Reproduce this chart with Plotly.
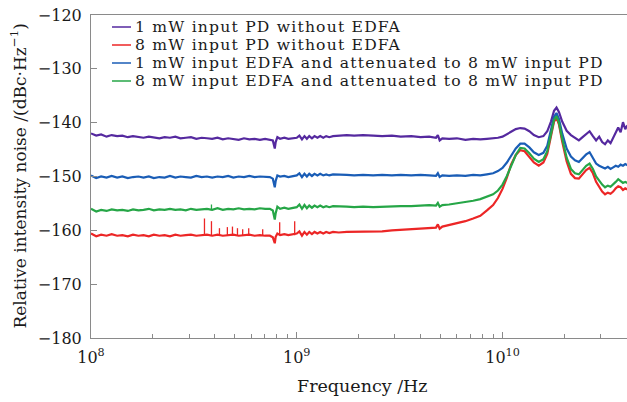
import plotly.graph_objects as go

# ---------------- data ----------------
freq_ghz = [
    0.100, 0.106, 0.112, 0.119, 0.126, 0.134, 0.142, 0.151, 0.160, 0.170,
    0.180, 0.191, 0.202, 0.215, 0.228, 0.242, 0.257, 0.272, 0.289, 0.306,
    0.325, 0.345, 0.366, 0.388, 0.412, 0.437, 0.464, 0.492, 0.522, 0.554,
    0.588, 0.624, 0.662, 0.702,
    0.740, 0.765, 0.775, 0.782, 0.790, 0.805, 0.830, 0.870, 0.910, 0.955,
    1.000, 1.030, 1.060, 1.090, 1.120, 1.150, 1.185, 1.220, 1.260, 1.300,
    1.345, 1.390, 1.440, 1.500,
    1.600, 1.750, 1.900, 2.100, 2.350, 2.600, 2.900, 3.200, 3.600, 4.000, 4.400,
    4.750, 4.850, 4.950, 5.100,
    5.500, 6.000, 6.600, 7.200, 7.800, 8.400, 9.000, 9.500,
    10.00, 10.50, 11.00, 11.60, 12.20, 12.80, 13.50, 14.20, 15.00, 15.80,
    16.50, 17.20, 17.80,
    18.30, 18.80, 19.50, 20.50, 21.50, 22.50, 23.50, 24.50, 25.50, 26.50,
    27.50, 28.50, 29.50, 30.50, 31.50, 32.50, 33.50, 34.50, 35.50, 36.50,
    37.50, 38.50, 39.50, 40.50,
]

rin_1mw_pd = [
    -142.0, -142.4, -142.2, -142.6, -142.3, -142.5, -142.4, -142.7, -142.5, -142.6,
    -142.8, -142.6, -142.7, -142.9, -142.7, -142.8, -142.6, -142.9, -142.8, -142.7,
    -143.0, -142.8, -142.9, -143.0, -142.8, -143.1, -142.9, -143.0, -143.2, -142.9,
    -143.1, -143.0, -143.2, -143.0,
    -143.1, -143.3, -144.2, -144.8, -143.6, -142.7, -143.0, -142.8, -143.0, -142.9,
    -142.8, -142.4, -143.1, -142.5, -143.0, -142.5, -142.9, -142.5, -142.8, -142.5,
    -142.8, -142.5, -142.7, -142.5,
    -142.4, -142.3, -142.4, -142.3, -142.4, -142.5, -142.4, -142.6, -142.5, -142.7, -142.6,
    -142.8, -142.3, -143.3, -142.9,
    -143.0, -142.9, -143.2, -143.0, -143.1, -143.0, -142.9, -142.8,
    -142.6, -142.2, -141.7, -141.2, -141.0, -141.1, -141.6, -142.3, -142.7, -142.5,
    -141.6, -139.8, -137.8,
    -137.2, -138.0, -139.8, -141.5, -142.3, -142.8, -143.3, -142.7, -142.2, -141.6,
    -142.5, -143.3, -142.6, -143.6, -144.0, -143.3, -143.8, -142.8, -141.6, -140.9,
    -141.8, -139.9, -141.2, -140.5,
]

rin_8mw_pd = [
    -160.6, -161.1, -160.8, -161.0, -160.7, -161.0, -160.9, -161.1, -160.8, -161.0,
    -160.9, -161.1, -160.8, -161.0, -160.9, -161.1, -160.8, -161.0, -160.9, -160.8,
    -161.0, -160.9, -160.8, -161.0, -160.8, -161.0, -160.9, -160.8, -161.0, -160.9,
    -160.8, -161.0, -160.9, -161.0,
    -161.0, -161.3, -162.0, -162.4, -161.2, -160.6, -160.9, -160.7, -160.9, -160.7,
    -160.6, -160.2, -161.0, -160.3, -160.8, -160.3, -160.7, -160.3, -160.6, -160.3,
    -160.6, -160.3, -160.5, -160.3,
    -160.4, -160.3, -160.3, -160.2, -160.2, -160.2, -160.0, -159.9, -159.8, -159.6, -159.5,
    -159.5, -158.9, -159.7, -159.3,
    -159.0, -158.7, -158.3, -157.8, -157.3, -156.3, -155.3, -154.0,
    -152.3, -150.2, -147.8, -146.0, -145.1, -145.3, -146.3, -147.4, -148.0, -147.4,
    -145.8, -142.7, -139.8,
    -139.1, -140.3, -143.5, -147.2, -149.5, -150.3, -150.4, -149.6, -148.8, -148.4,
    -149.4, -151.0, -152.0, -152.8, -153.3, -153.0, -153.2, -152.8, -152.2, -151.8,
    -152.0, -152.5, -152.2, -152.4,
]

rin_1mw_edfa = [
    -149.8, -150.3, -150.0, -150.2, -149.9, -150.2, -150.0, -150.3, -150.1, -150.0,
    -150.2, -150.0, -150.3, -150.1, -150.2, -149.9, -150.2, -150.0, -150.1, -150.2,
    -149.9, -150.1, -150.0, -150.2, -150.0, -150.1, -149.9, -150.2, -150.0, -150.1,
    -149.9, -150.1, -150.0, -150.1,
    -150.1, -150.4, -151.4, -152.0, -150.8, -149.8, -150.0, -149.9, -150.1, -149.9,
    -149.8, -149.4, -150.1, -149.5, -150.0, -149.5, -149.9, -149.5, -149.8, -149.5,
    -149.8, -149.6, -149.8, -149.6,
    -149.7, -149.7, -149.8, -149.7, -149.8, -149.7, -149.8, -149.7, -149.8, -149.7, -149.8,
    -149.9, -149.4, -150.1, -149.8,
    -149.9, -149.8, -149.9, -149.7, -149.8, -149.6, -149.4, -149.0,
    -148.4, -147.4, -146.2, -144.8, -143.9, -143.9, -144.6, -145.5, -146.0, -145.6,
    -144.3, -141.6, -138.9,
    -138.2, -139.3, -142.0, -144.8, -146.3, -147.0, -147.3, -146.6, -145.9, -145.5,
    -146.5, -147.6, -148.0, -148.3, -148.5, -148.2, -148.6, -148.3, -148.0, -148.2,
    -147.8, -148.0, -147.7, -147.9,
]

rin_8mw_edfa = [
    -156.0, -156.5, -156.2, -156.4, -156.1, -156.3, -156.2, -156.4, -156.1, -156.3,
    -156.2, -156.0, -156.3, -156.1, -156.2, -156.0, -156.2, -156.1, -156.3, -156.0,
    -156.2, -156.1, -156.0, -156.2, -155.9, -156.2, -156.0, -156.1, -155.9, -156.1,
    -156.0, -156.1, -155.9, -156.0,
    -156.0, -156.3, -157.4, -158.0, -156.8, -155.6, -156.0, -155.8, -156.0, -155.8,
    -155.7, -155.2, -156.0, -155.3, -155.9, -155.4, -155.8, -155.4, -155.7, -155.4,
    -155.7, -155.5, -155.7, -155.5,
    -155.6, -155.6, -155.7, -155.6, -155.7, -155.6, -155.6, -155.5, -155.5, -155.4, -155.3,
    -155.4, -154.9, -155.6, -155.3,
    -155.2, -155.0, -154.8, -154.5, -154.2, -153.8, -153.3, -152.6,
    -151.5, -149.9, -148.0, -146.0, -144.7, -144.8, -145.7, -146.7, -147.3, -146.8,
    -145.3, -142.3, -139.5,
    -138.8, -140.0, -143.0, -146.5, -148.6, -149.4, -149.6, -148.8, -148.0, -147.6,
    -148.6, -150.0, -150.8, -151.5, -152.0, -151.7, -151.9, -151.5, -151.0, -150.5,
    -150.8, -151.2, -151.0, -151.2,
]

# narrow spurs (frequency, top value) and the floor they rise from
red_spike_ghz = [0.356, 0.385, 0.421, 0.460, 0.487, 0.515, 0.546, 0.584, 0.683, 0.826, 0.977]
red_spike_top = [-157.8, -158.3, -159.6, -159.4, -159.3, -159.6, -159.8, -159.6, -159.8, -158.5, -158.3]
red_spike_base = -160.9
green_spike_ghz = [0.385]
green_spike_top = [-155.2]
green_spike_base = -156.1

series_names = [
    "1 mW input PD without EDFA",
    "8 mW input PD without EDFA",
    "1 mW input EDFA and attenuated to 8 mW input PD",
    "8 mW input EDFA and attenuated to 8 mW input PD",
]
series_values = [rin_1mw_pd, rin_8mw_pd, rin_1mw_edfa, rin_8mw_edfa]
series_colors = ["#55299f", "#ec2626", "#1a5db6", "#26a647"]

y_ticks = [-180, -170, -160, -150, -140, -130, -120]
x_tickvals = [1e8, 1e9, 1e10]
x_ticktext = ["10<sup>8</sup>", "10<sup>9</sup>", "10<sup>10</sup>"]

# ---------------- figure ----------------
FONT = "DejaVu Serif"
TXT = "#1a1a1a"
W, H = 627, 402
ML, MR, MT, MB = 91, 0, 15, 64
PW, PH = W - ML - MR, H - MT - MB


def px_x(px):  # page pixel -> paper x
    return (px - ML) / PW


def px_y(py):  # page pixel -> paper y
    return (H - MB - py) / PH


freq_hz = [f * 1e9 for f in freq_ghz]
fig = go.Figure()
for name, vals, col in zip(series_names, series_values, series_colors):
    fig.add_trace(go.Scatter(x=freq_hz, y=vals, mode="lines", name=name,
                             line=dict(color=col, width=2.2), showlegend=False))


def spike_xy(fs, tops, base):
    xs, ys = [], []
    for f, t in zip(fs, tops):
        xs += [f * 1e9, f * 1e9, None]
        ys += [base, t, None]
    return xs, ys


sx, sy = spike_xy(red_spike_ghz, red_spike_top, red_spike_base)
fig.add_trace(go.Scatter(x=sx, y=sy, mode="lines", line=dict(color=series_colors[1], width=1.3),
                         showlegend=False, hoverinfo="skip"))
gx, gy = spike_xy(green_spike_ghz, green_spike_top, green_spike_base)
fig.add_trace(go.Scatter(x=gx, y=gy, mode="lines", line=dict(color=series_colors[3], width=1.3),
                         showlegend=False, hoverinfo="skip"))

# compact legend drawn like the reference (short key line + text)
row_px = [27.0, 45.0, 63.0, 81.0]
key_x0, key_x1, text_x = 112, 131, 134
for name, col, ry in zip(series_names, series_colors, row_px):
    fig.add_shape(type="line", xref="paper", yref="paper",
                  x0=px_x(key_x0), x1=px_x(key_x1), y0=px_y(ry), y1=px_y(ry),
                  line=dict(color=col, width=1.5))
    fig.add_annotation(xref="paper", yref="paper", x=px_x(text_x), y=px_y(ry),
                       xanchor="left", yanchor="middle", showarrow=False, borderpad=0,
                       text="<span style='letter-spacing:1.2px'>" + name + "</span>",
                       font=dict(family=FONT, size=15.6, color=TXT))

# axis titles
fig.add_annotation(xref="paper", yref="paper", x=px_x(18), y=px_y(176.5),
                   xanchor="center", yanchor="middle", textangle=-90, showarrow=False,
                   text="Relative intensity noise /(dBc·Hz<sup>−1</sup>)",
                   font=dict(family=FONT, size=17, color=TXT))
fig.add_annotation(xref="paper", yref="paper", x=px_x(362), y=px_y(386),
                   xanchor="center", yanchor="middle", showarrow=False,
                   text="Frequency /Hz", font=dict(family=FONT, size=17.5, color=TXT))

axis_col = "#8a8a8a"
fig.update_layout(
    width=W, height=H,
    margin=dict(l=ML, r=MR, t=MT, b=MB, autoexpand=False),
    paper_bgcolor="white", plot_bgcolor="white",
    font=dict(family=FONT, color=TXT),
    showlegend=False,
    xaxis=dict(
        type="log", range=[8, 10.605], automargin=False,
        tickvals=x_tickvals, ticktext=x_ticktext,
        ticks="inside", ticklen=6, tickcolor=axis_col,
        minor=dict(ticks="inside", ticklen=4, tickcolor=axis_col, dtick="D1", showgrid=False),
        showline=True, linecolor=axis_col, linewidth=1, mirror=True,
        showgrid=False, zeroline=False,
        tickfont=dict(family=FONT, size=16, color=TXT),
        ticklabelstandoff=5, ticklabeloverflow="allow",
    ),
    yaxis=dict(
        range=[-180, -120], tickvals=y_ticks, automargin=False,
        ticks="inside", ticklen=6, tickcolor=axis_col,
        showline=True, linecolor=axis_col, linewidth=1,
        showgrid=False, zeroline=False,
        tickfont=dict(family=FONT, size=16, color=TXT),
        ticklabelstandoff=5, ticklabeloverflow="allow",
    ),
)

# remove the browser's default 8 px body margin so the figure fills the window exactly
fig.write_html("out.html", config={"displayModeBar": False},
               post_script="document.body.style.margin='0px';")
